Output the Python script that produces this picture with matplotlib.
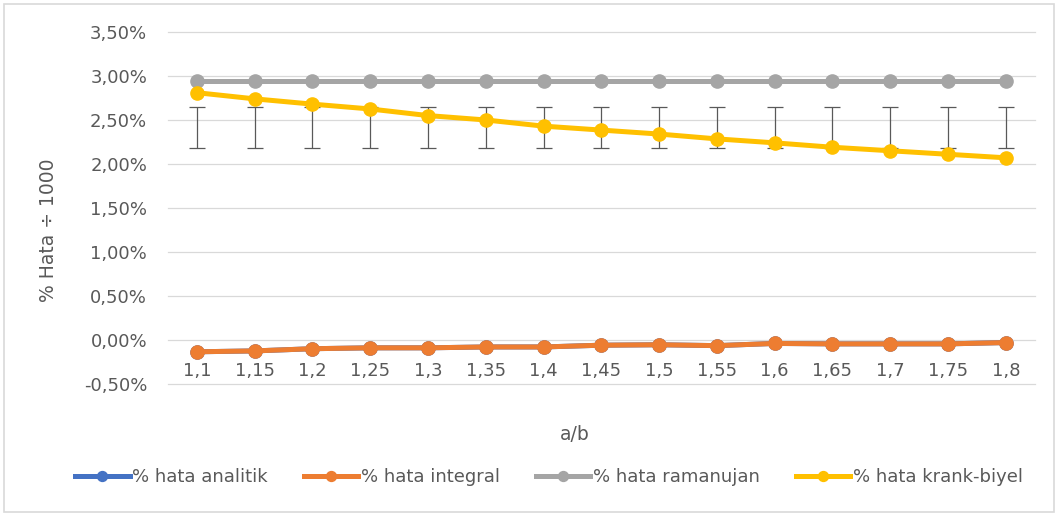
import matplotlib
matplotlib.use('Agg')
import matplotlib.pyplot as plt
from matplotlib.patches import Rectangle
from matplotlib.ticker import FuncFormatter

matplotlib.rc('font', size=13, family=['DejaVu Sans'])

categories = ['1,1', '1,15', '1,2', '1,25', '1,3', '1,35', '1,4', '1,45',
              '1,5', '1,55', '1,6', '1,65', '1,7', '1,75', '1,8']

# values in percent
hata_analitik = [-0.135, -0.125, -0.10, -0.09, -0.09, -0.08, -0.08, -0.06,
                 -0.055, -0.065, -0.04, -0.045, -0.045, -0.045, -0.03]
hata_integral = [-0.135, -0.125, -0.10, -0.09, -0.09, -0.08, -0.08, -0.06,
                 -0.055, -0.065, -0.04, -0.045, -0.045, -0.045, -0.03]
hata_ramanujan = [2.94] * 15
hata_krank = [2.81, 2.74, 2.68, 2.625, 2.55, 2.50, 2.43, 2.385,
              2.34, 2.285, 2.24, 2.19, 2.15, 2.11, 2.07]
err_low = [2.18] * 15
err_high = [2.65] * 15

TEXT = '#595959'
series = [
    ('% hata analitik', hata_analitik, '#4472C4'),
    ('% hata integral', hata_integral, '#ED7D31'),
    ('% hata ramanujan', hata_ramanujan, '#A5A5A5'),
    ('% hata krank-biyel', hata_krank, '#FFC000'),
]

fig = plt.figure(figsize=(10.59, 5.16), dpi=100)
ax = fig.add_axes([0.1586, 0.256, 0.8184, 0.682])

xs = list(range(len(categories)))
centers = [(lo + hi) / 2 for lo, hi in zip(err_low, err_high)]
halves = [(hi - lo) / 2 for lo, hi in zip(err_low, err_high)]
ax.errorbar(xs, centers, yerr=halves, fmt='none', ecolor=TEXT,
            elinewidth=0.9, capsize=6, capthick=0.9, zorder=2)

handles = []
for name, vals, color in series:
    h, = ax.plot(xs, vals, color=color, linewidth=3.6, marker='o',
                 markersize=9.5, label=name, zorder=3)
    handles.append(h)

ax.set_xlim(-0.5, len(categories) - 0.5)
ax.set_ylim(-0.5, 3.5)
ax.set_yticks([-0.5, 0, 0.5, 1.0, 1.5, 2.0, 2.5, 3.0, 3.5])
ax.yaxis.set_major_formatter(FuncFormatter(lambda v, p: f'{v:.2f}%'.replace('.', ',')))
ax.set_xticks(xs)
ax.set_xticklabels(categories)
ax.grid(axis='y', color='#D9D9D9', linewidth=0.9)
for gl in ax.get_ygridlines():
    gl.set_clip_on(False)
ax.set_axisbelow(True)
for s in ax.spines.values():
    s.set_visible(False)
ax.spines['bottom'].set_position(('data', 0))
ax.tick_params(axis='both', length=0, colors=TEXT, labelsize=13)
ax.tick_params(axis='x', pad=16)
ax.tick_params(axis='y', pad=15)

fig.text(48 / 1059, 1 - 230 / 516, '% Hata ÷ 1000', color=TEXT, fontsize=13.5,
         rotation=90, ha='center', va='center')
fig.text(575 / 1059, 1 - 435 / 516, 'a/b', color=TEXT, fontsize=13.5,
         ha='center', va='center')

fig.legend(handles=handles, loc='center', ncol=4,
           bbox_to_anchor=(549 / 1059, 1 - 477 / 516), frameon=False,
           handlelength=3.0, handletextpad=0.15, columnspacing=2.0,
           markerscale=0.75, fontsize=13, labelcolor=TEXT)

fig.patches.append(Rectangle((0.004, 0.008), 0.991, 0.984, transform=fig.transFigure,
                             fill=False, edgecolor='#D9D9D9', linewidth=1.2))

fig.savefig('out.png', dpi=100)
